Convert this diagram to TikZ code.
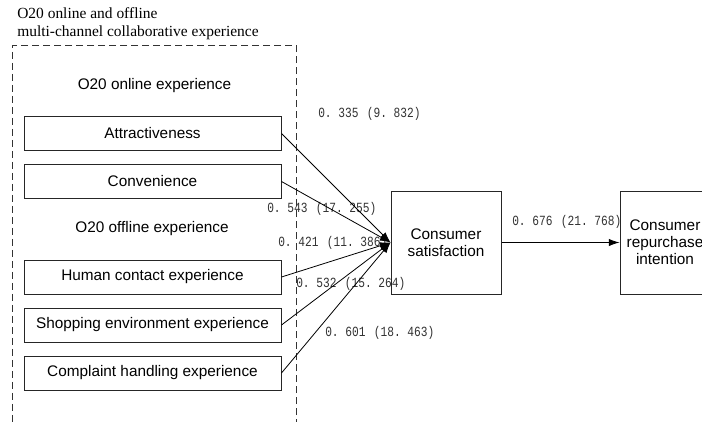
\documentclass[tikz,border=0pt]{standalone}
\usepackage{fontspec}
\setmainfont{Liberation Serif}
\setsansfont{Liberation Sans}
\newfontfamily\lblmono[FakeStretch=0.8]{Liberation Mono}
\usetikzlibrary{arrows.meta}
\newcommand\coef[2]{{\lblmono #1\makebox[11.25pt][r]{(}#2\makebox[11.25pt][l]{)}}}
\begin{document}
\begin{tikzpicture}[x=0.75pt,y=-0.75pt,
  sanstext/.style={font=\sffamily\fontsize{11.5}{12.75}\selectfont, text=black},
  itembox/.style={draw=black!85, line width=0.75pt, sanstext, minimum width=192.75pt, minimum height=25.5pt, inner sep=0pt},
  bigbox/.style={draw=black!85, line width=0.75pt, sanstext, align=center, minimum height=77.25pt, inner sep=0pt},
  grpbox/.style={draw=black!80, line width=0.75pt, dash pattern=on 5.25pt off 3pt, minimum width=213pt, minimum height=320pt, inner sep=0pt},
  coeflbl/.style={font=\fontsize{10.5}{12}\selectfont, text=black!80, inner sep=0pt, anchor=west},
  arr/.style={draw=black, line width=0.6pt, -{Latex[length=8pt,width=5.5pt]}}]
\useasboundingbox (0,0) rectangle (702,421);
\clip (0,0) rectangle (702,421);
\fill[white] (0,0) rectangle (702,421);

% group
\node[grpbox, anchor=north west] (grp) at (12,45) {};
\node[font=\fontsize{11.6}{13.5}\selectfont, align=left, anchor=west, inner sep=0pt] (title) at (17,24)
  {O20 online and offline\\multi-channel collaborative experience};

\node[sanstext] (onh) at (154.5,86) {O20 online experience};
\node[itembox] (att) at (152.5,133.5) {Attractiveness};
\node[itembox] (con) at (152.5,181.5) {Convenience};
\node[sanstext] (offh) at (152,229) {O20 offline experience};
\node[itembox] (hum) at (152.5,277) {Human contact experience};
\node[itembox] (shp) at (152.5,325) {Shopping environment experience};
\node[itembox] (cmp) at (152.5,373) {Complaint handling experience};

\node[bigbox, minimum width=82.5pt] (sat) at (446,242.5) {Consumer\\satisfaction};
\node[bigbox, minimum width=67.5pt] (rep) at (665,242.5) {Consumer\\repurchase\\intention};

% coefficient labels
\node[coeflbl] (l1) at (318,114) {\coef{0.\ 335}{9.\ 832}};
\node[coeflbl] (l2) at (267,209) {\coef{0.\ 543}{17.\ 255}};
\node[coeflbl] (l3) at (278,243) {\coef{0.\ 421}{11.\ 386}};
\node[coeflbl] (l4) at (296,284) {\coef{0.\ 532}{15.\ 264}};
\node[coeflbl] (l5) at (325,333) {\coef{0.\ 601}{18.\ 463}};
\node[coeflbl] (l6) at (512,222) {\coef{0.\ 676}{21.\ 768}};

% arrows
\draw[arr] (att.east) -- (sat.west);
\draw[arr] (con.east) -- (sat.west);
\draw[arr] (hum.east) -- (sat.west);
\draw[arr] (shp.east) -- (sat.west);
\draw[arr] (cmp.east) -- (sat.west);
\draw[arr] (sat.east) -- (rep.west);
\end{tikzpicture}
\end{document}
